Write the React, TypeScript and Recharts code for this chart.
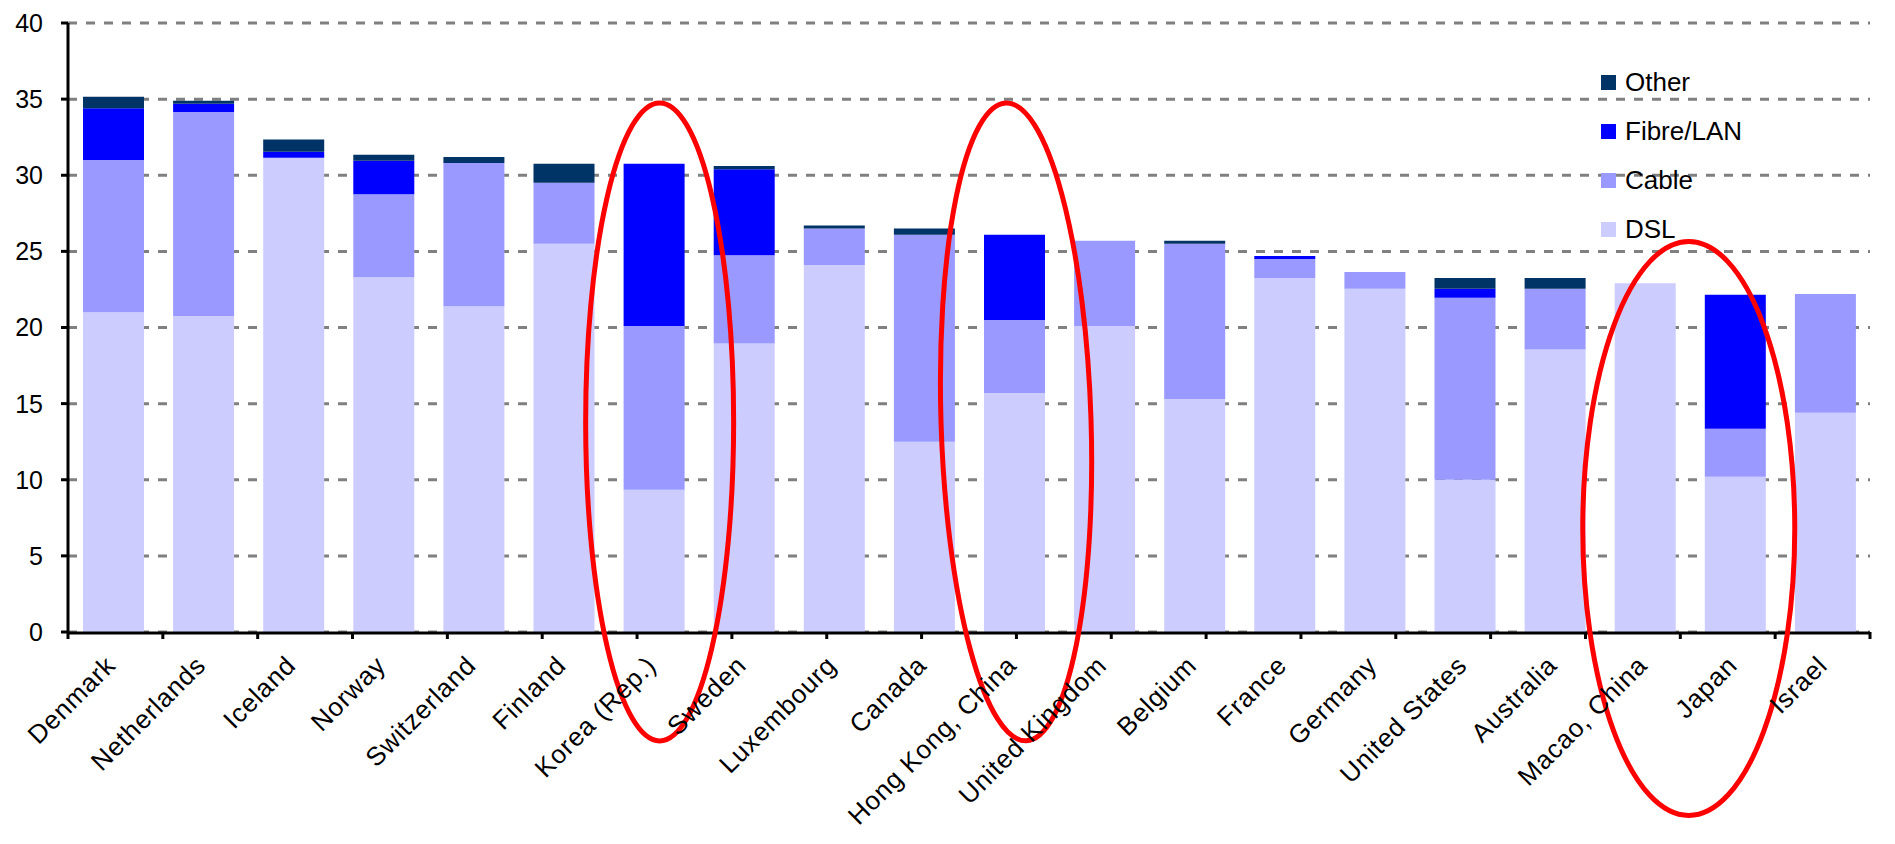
import React from "react";
import {
  Bar,
  BarChart,
  CartesianGrid,
  Legend,
  ReferenceDot,
  XAxis,
  YAxis,
} from "recharts";

const countries = [
  "Denmark",
  "Netherlands",
  "Iceland",
  "Norway",
  "Switzerland",
  "Finland",
  "Korea (Rep.)",
  "Sweden",
  "Luxembourg",
  "Canada",
  "Hong Kong, China",
  "United Kingdom",
  "Belgium",
  "France",
  "Germany",
  "United States",
  "Australia",
  "Macao, China",
  "Japan",
  "Israel",
];

const dsl = [21.0, 20.75, 31.15, 23.3, 21.4, 25.5, 9.35, 18.95, 24.1, 12.5, 15.7, 20.1, 15.3, 23.25, 22.55, 10.0, 18.55, 22.9, 10.2, 14.4];
const cable = [10.0, 13.4, 0, 5.45, 9.4, 4.0, 10.75, 5.8, 2.4, 13.6, 4.8, 5.6, 10.2, 1.25, 1.1, 11.95, 4.0, 0, 3.15, 7.8];
const fibre = [3.4, 0.55, 0.4, 2.2, 0, 0, 10.65, 5.65, 0, 0, 5.6, 0, 0, 0.2, 0, 0.6, 0, 0, 8.8, 0];
const other = [0.75, 0.2, 0.8, 0.4, 0.4, 1.25, 0, 0.2, 0.2, 0.4, 0, 0, 0.2, 0, 0, 0.7, 0.7, 0, 0, 0];

const yTicks = [0, 5, 10, 15, 20, 25, 30, 35, 40];
// category boundaries, Excel-style tick marks between bars
const boundaryTicks = [0, 1, 2, 3, 4, 5, 6, 7, 8, 9, 10, 11, 12, 13, 14, 15, 16, 17, 18, 19, 20];
const legendOrder = ["Other", "Fibre/LAN", "Cable", "DSL"];

const data = countries.map((name, i) => ({
  name,
  dsl: dsl[i],
  cable: cable[i],
  fibre: fibre[i],
  other: other[i],
}));

const FONT = "'Liberation Sans', Arial, sans-serif";

function XTick(props: any) {
  const { x, y, payload } = props;
  const ax = x + 4;
  const ay = y + 34;
  return (
    <text
      x={ax}
      y={ay}
      textAnchor="end"
      fontSize={26}
      letterSpacing={0.8}
      fill="#000"
      transform={`rotate(-45 ${ax} ${ay})`}
    >
      {payload.value}
    </text>
  );
}

function LegendBox(props: any) {
  const items = legendOrder
    .map((n) => (props.payload ?? []).find((p: any) => p.value === n))
    .filter(Boolean);
  return (
    <div style={{ fontFamily: FONT, fontSize: 26, color: "#000" }}>
      {items.map((it: any) => (
        <div key={it.value} style={{ display: "flex", alignItems: "center", height: 49 }}>
          <span style={{ width: 15, height: 15, background: it.color, marginRight: 9, display: "inline-block" }} />
          <span>{it.value}</span>
        </div>
      ))}
    </div>
  );
}

const ellipse = (rx: number, ry: number, dx: number, rot = 0) => (p: any) => (
  <ellipse
    cx={p.cx + dx}
    cy={p.cy}
    rx={rx}
    ry={ry}
    fill="none"
    stroke="#FF0000"
    strokeWidth={5}
    transform={`rotate(${rot} ${p.cx + dx} ${p.cy})`}
  />
);

export default function App() {
  return (
    <div style={{ position: "absolute", left: 0, top: 0, width: 1895, height: 844, background: "#fff", fontFamily: FONT }}>
      <BarChart width={1895} height={844} data={data} margin={{ top: 23, right: 25, bottom: 12, left: 0 }}>
        <CartesianGrid vertical={false} stroke="#808080" strokeDasharray="9 9" strokeWidth={3} xAxisId="cat" />
        <XAxis
          xAxisId="cat"
          dataKey="name"
          interval={0}
          tick={<XTick />}
          tickLine={false}
          tickSize={0}
          tickMargin={0}
          axisLine={{ stroke: "#000", strokeWidth: 3 }}
          height={199}
        />
        <XAxis
          xAxisId="axTicks"
          type="number"
          domain={[0, 20]}
          ticks={boundaryTicks}
          interval={0}
          allowDataOverflow
          tick={() => <g />}
          tickSize={7}
          tickLine={{ stroke: "#000", strokeWidth: 3 }}
          axisLine={false}
          height={1}
        />
        <YAxis
          width={68}
          domain={[0, 40]}
          ticks={yTicks}
          interval={0}
          tick={{ fill: "#000", fontSize: 25 }}
          tickSize={7}
          tickMargin={18}
          tickLine={{ stroke: "#000", strokeWidth: 3 }}
          axisLine={{ stroke: "#000", strokeWidth: 3 }}
        />
        <Legend
          layout="horizontal"
          verticalAlign="middle"
          align="center"
          wrapperStyle={{ position: "absolute", left: 1601, top: 58, width: "auto" }}
          content={<LegendBox />}
        />
        <Bar xAxisId="cat" dataKey="dsl" name="DSL" stackId="a" fill="#CCCCFF" barSize={61} isAnimationActive={false} />
        <Bar xAxisId="cat" dataKey="cable" name="Cable" stackId="a" fill="#9999FF" barSize={61} isAnimationActive={false} />
        <Bar xAxisId="cat" dataKey="fibre" name="Fibre/LAN" stackId="a" fill="#0000FF" barSize={61} isAnimationActive={false} />
        <Bar xAxisId="cat" dataKey="other" name="Other" stackId="a" fill="#003366" barSize={61} isAnimationActive={false} />
        <ReferenceDot xAxisId="cat" x="Korea (Rep.)" y={13.8} shape={ellipse(74, 319, 6)} />
        <ReferenceDot xAxisId="cat" x="Hong Kong, China" y={13.8} shape={ellipse(75, 319, 2, -1.8)} />
        <ReferenceDot xAxisId="cat" x="Macao, China" y={6.8} shape={ellipse(106, 287, 44)} />
      </BarChart>
    </div>
  );
}
